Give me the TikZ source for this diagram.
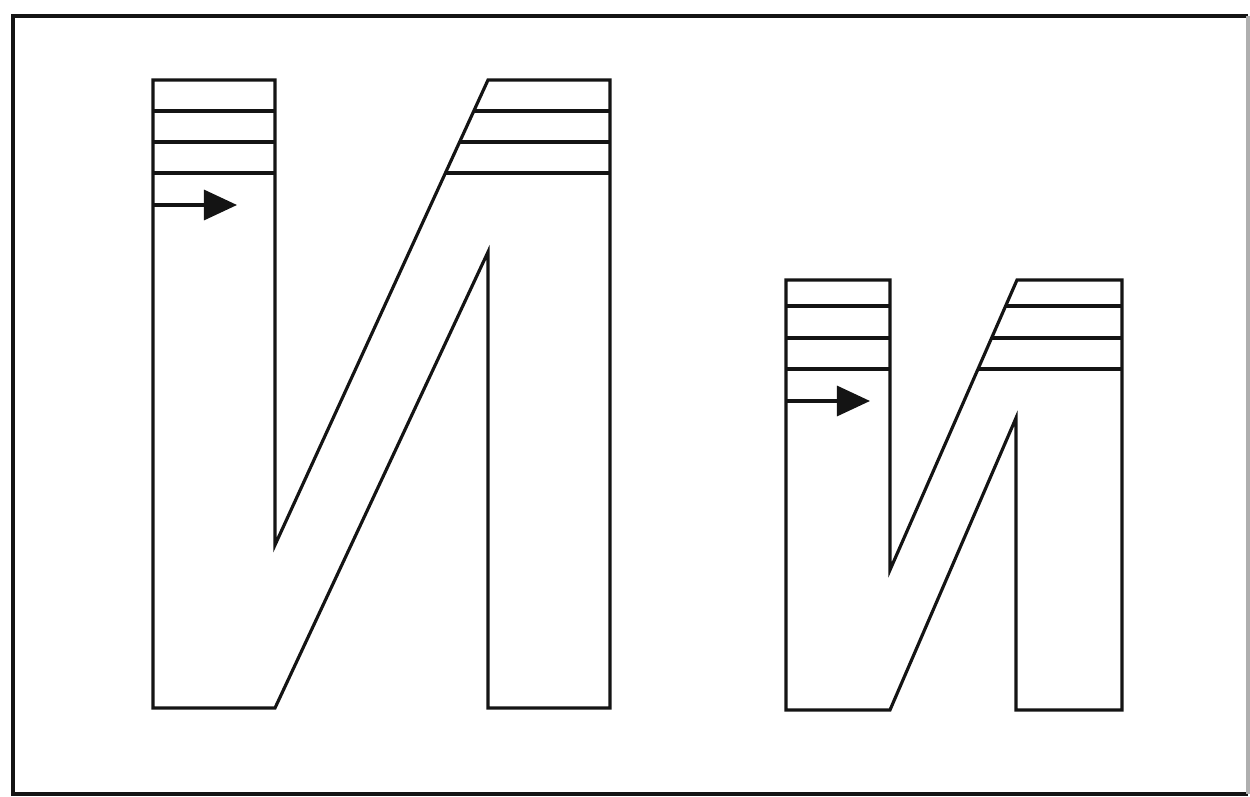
\documentclass[tikz,border=0pt]{standalone}
\usepackage{xcolor}
\usepackage{tikz}
\usetikzlibrary{arrows.meta}
\definecolor{glyphline}{RGB}{20,20,20}
\definecolor{frameedge}{RGB}{175,175,175}

\begin{document}
\begin{tikzpicture}[
    x=0.01cm, y=-0.01cm,
    frame/.style={draw=glyphline, line width=1pt},
    outline/.style={draw=glyphline, line width=0.9pt, line join=miter},
    stroke/.style={draw=glyphline, line width=0.9pt},
    arrow/.style={-{Triangle[length=3.3mm, width=3mm]}, draw=glyphline, line width=0.9pt}
  ]
    \useasboundingbox (0,0) rectangle (1250,797);
    \draw[frame] (1248,16) -- (13,16) -- (13,794) -- (1248,794);
    \draw[frame, draw=frameedge] (1248,16) -- (1248,794);
    % large letter
    \draw[outline] (153,80) -- (275,80) -- (275,545) -- (488,80) -- (610,80) -- (610,708)
      -- (488,708) -- (488,252) -- (275,708) -- (153,708) -- cycle;
    \foreach \y/\x in {111/474, 142/460, 173/446}
      \draw[stroke] (153,\y) -- (275,\y) (\x,\y) -- (610,\y);
    \coordinate (bigstart) at (153,205);
    \coordinate (bigtip) at (237,205);
    \draw[arrow] (bigstart) -- (bigtip);
    % small letter
    \draw[outline] (786,280) -- (890,280) -- (890,570) -- (1017,280) -- (1122,280) -- (1122,710)
      -- (1016,710) -- (1016,418) -- (890,710) -- (786,710) -- cycle;
    \foreach \y/\x in {306/1006, 338/992, 369/978}
      \draw[stroke] (786,\y) -- (890,\y) (\x,\y) -- (1122,\y);
    \coordinate (smallstart) at (786,401);
    \coordinate (smalltip) at (870,401);
    \draw[arrow] (smallstart) -- (smalltip);
  \end{tikzpicture}
\end{document}
